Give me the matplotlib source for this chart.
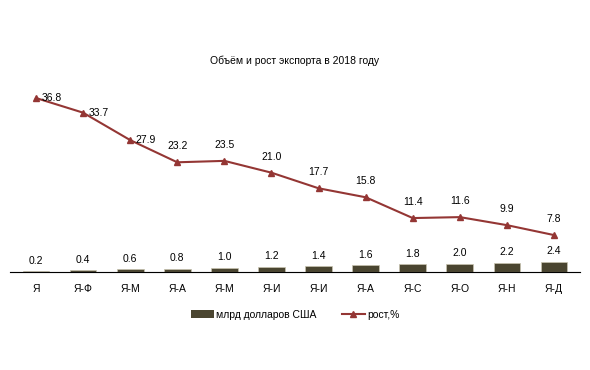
import matplotlib
matplotlib.use("Agg")
import matplotlib.pyplot as plt
from matplotlib.lines import Line2D
from matplotlib.patches import Patch

categories = ["Я", "Я-Ф", "Я-М", "Я-А", "Я-М", "Я-И", "Я-И", "Я-А", "Я-С", "Я-О", "Я-Н", "Я-Д"]
volume = [0.2, 0.4, 0.6, 0.8, 1.0, 1.2, 1.4, 1.6, 1.8, 2.0, 2.2, 2.4]
growth = [36.8, 33.7, 27.9, 23.2, 23.5, 21.0, 17.7, 15.8, 11.4, 11.6, 9.9, 7.8]
title = "Объём и рост экспорта в 2018 году"
bar_label = "млрд долларов США"
line_label = "рост,%"

plt.rcParams['font.family'] = ['Liberation Sans', 'DejaVu Sans']
bar_color = "#4a4530"
line_color = "#943634"

fig = plt.figure(figsize=(5.9, 3.7), dpi=100)
ax = fig.add_axes([0.017, 0.265, 0.966, 0.511])
x = list(range(len(categories)))
ax.bar(x, volume, width=0.57, color=bar_color, edgecolor="#c8c4b0", linewidth=0.5)
ax.set_ylim(0, 45)
ax.set_xlim(-0.55, len(categories) - 0.45)
for xi, v in zip(x, volume):
    ax.annotate(f"{v:.1f}", (xi, v), xytext=(0, 4), textcoords="offset points",
                ha="center", va="bottom", fontsize=7.5)

ax2 = ax.twinx()
ax2.plot(x, growth, color=line_color, marker="^", markersize=5, linewidth=1.5)
ax2.set_ylim(0, 40)
for i, (xi, g) in enumerate(zip(x, growth)):
    if i < 3:
        ax2.annotate(f"{g:.1f}", (xi, g), xytext=(4, 0), textcoords="offset points",
                     ha="left", va="center", fontsize=7.5)
    else:
        ax2.annotate(f"{g:.1f}", (xi, g), xytext=(0, 8), textcoords="offset points",
                     ha="center", va="bottom", fontsize=7.5)

for a in (ax, ax2):
    for s in ["top", "right", "left"]:
        a.spines[s].set_visible(False)
    a.set_yticks([])
ax.spines["bottom"].set_color("#bfbfbf")
ax.set_xticks(x)
ax.set_xticklabels(categories, fontsize=7.5)
ax.tick_params(axis="x", length=0, pad=9)

fig.text(0.5, 0.835, title, ha="center", va="center", fontsize=7.5)

handles = [Patch(facecolor=bar_color, label=bar_label),
           Line2D([0], [0], color=line_color, marker="^", markersize=5, linewidth=1.5, label=line_label)]
fig.legend(handles=handles, loc="center", bbox_to_anchor=(0.5, 0.15), ncol=2, frameon=False,
           fontsize=7.5, handlelength=2.2, handletextpad=0.2, columnspacing=2.5)

fig.savefig("out.png", dpi=100)
